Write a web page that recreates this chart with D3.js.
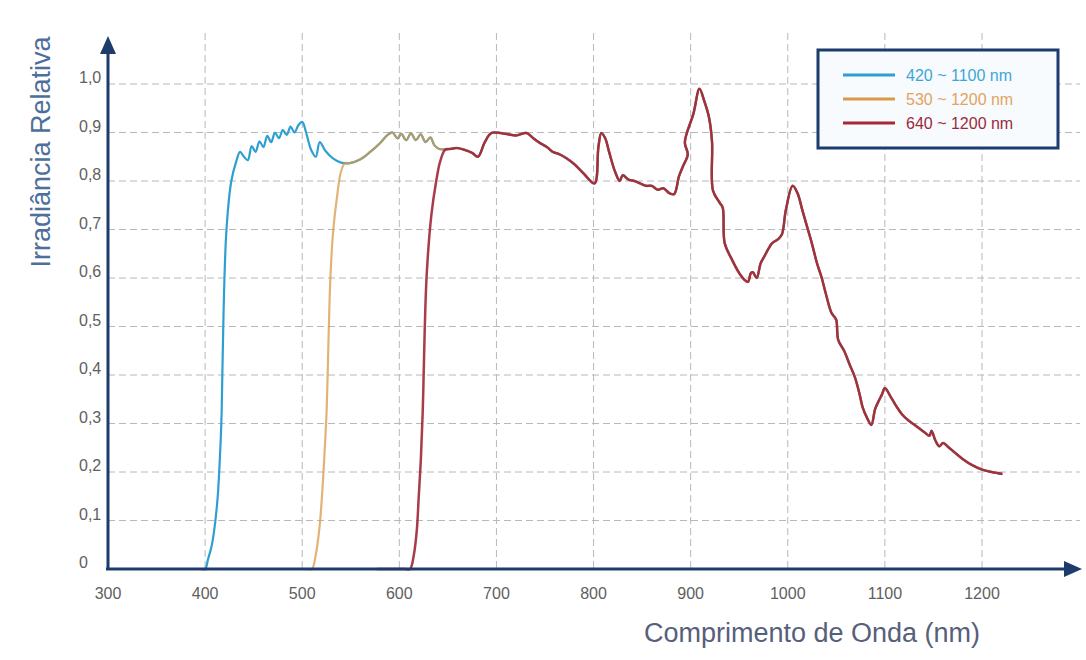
<!DOCTYPE html>
<html>
<head>
<meta charset="utf-8">
<script src="https://cdn.jsdelivr.net/npm/d3@7"></script>
<style>
  body { margin: 0; background: #fff; }
  text { font-family: "Liberation Sans", Arial, sans-serif; }
</style>
</head>
<body>
<svg width="1086" height="660"></svg>
<script>
// tick labels
var xTicks = [300, 400, 500, 600, 700, 800, 900, 1000, 1100, 1200];
var yTicks = [0, 0.1, 0.2, 0.3, 0.4, 0.5, 0.6, 0.7, 0.8, 0.9, 1.0];

// series names
var seriesNames = ["420 ~ 1100 nm", "530 ~ 1200 nm", "640 ~ 1200 nm"];

// blue filter edge and ripple, [nm, value]
var blueRise = [
  [361, 0], [380, 0], [395, 0], [400, 0], [403, 0.02], [407, 0.05], [410, 0.09], [413, 0.15],
  [415, 0.22], [417, 0.32], [419, 0.53], [422, 0.70], [427, 0.80], [432, 0.84], [436, 0.86],
  [440, 0.85], [444, 0.843], [448, 0.872], [452, 0.86], [456, 0.882], [460, 0.87],
  [464, 0.893], [468, 0.88], [472, 0.90], [476, 0.888], [480, 0.905], [484, 0.895],
  [488, 0.912], [492, 0.90], [496, 0.915], [500, 0.922], [504, 0.90], [509, 0.865],
  [514, 0.85], [518, 0.88], [524, 0.862], [532, 0.846], [540, 0.838]
];
// orange filter edge
var orangeRise = [
  [480, 0], [495, 0], [505, 0], [510, 0], [514, 0.03], [518, 0.09], [521, 0.17], [523, 0.24],
  [525, 0.32], [529, 0.60], [532, 0.70], [536, 0.77], [540, 0.82], [544, 0.837]
];
// band shared by blue and orange
var midBand = [
  [549, 0.837], [560, 0.845], [570, 0.86], [580, 0.878], [588, 0.895], [593, 0.90],
  [598, 0.888], [602, 0.897], [607, 0.884], [612, 0.898], [617, 0.884], [622, 0.896],
  [627, 0.88], [632, 0.89], [636, 0.874], [641, 0.866]
];
// red filter edge
var redRise = [
  [577, 0], [595, 0], [606, 0], [611, 0], [615, 0.03], [618, 0.08], [620, 0.15], [622, 0.22],
  [624, 0.32], [628, 0.60], [633, 0.73], [638, 0.80], [642, 0.84], [647, 0.864]
];
// common spectrum, all three filters
var tail = [
  [652, 0.866], [659, 0.868], [666, 0.865], [675, 0.858], [681, 0.85], [688, 0.88],
  [695, 0.899], [710, 0.897], [720, 0.894], [731, 0.899], [738, 0.888], [745, 0.878],
  [752, 0.87], [758, 0.86], [765, 0.855], [772, 0.847], [780, 0.835], [790, 0.815],
  [801, 0.795], [805, 0.87], [808, 0.899], [812, 0.888], [816, 0.86], [822, 0.82],
  [827, 0.80], [830, 0.812], [836, 0.803], [842, 0.80], [848, 0.795], [854, 0.79],
  [860, 0.79], [866, 0.782], [872, 0.785], [878, 0.775], [883, 0.773], [888, 0.81],
  [892, 0.83], [897, 0.855], [894, 0.88], [903, 0.94], [909, 0.99], [914, 0.965],
  [919, 0.93], [922, 0.88], [923, 0.78], [930, 0.755], [933, 0.745], [935, 0.672],
  [942, 0.64], [950, 0.61], [955, 0.597], [959, 0.592], [962, 0.61], [964, 0.612],
  [968, 0.60], [972, 0.63], [976, 0.645], [980, 0.66], [984, 0.672], [990, 0.68],
  [994, 0.69], [998, 0.74], [1005, 0.79], [1010, 0.775], [1015, 0.74], [1020, 0.705],
  [1025, 0.67], [1030, 0.631], [1035, 0.60], [1039, 0.569], [1045, 0.528], [1048, 0.52],
  [1050, 0.513], [1052, 0.472], [1058, 0.45], [1064, 0.42], [1069, 0.396], [1074, 0.36],
  [1077, 0.334], [1082, 0.31], [1086, 0.297], [1090, 0.33], [1094, 0.348], [1097, 0.36],
  [1100, 0.373], [1106, 0.355], [1112, 0.335], [1118, 0.318], [1125, 0.305],
  [1132, 0.295], [1140, 0.283], [1146, 0.275], [1148, 0.285], [1152, 0.265],
  [1156, 0.253], [1160, 0.26], [1165, 0.252], [1172, 0.24], [1180, 0.227],
  [1190, 0.214], [1200, 0.205], [1210, 0.20], [1221, 0.196]
];

var blue = blueRise.concat(midBand, tail),
    orange = orangeRise.concat(midBand, tail),
    red = redRise.concat(tail);

var svg = d3.select("svg");

var x = d3.scaleLinear().domain([300, 1200]).range([108, 982]);
var y = d3.scaleLinear().domain([0, 1]).range([569, 84]);

var navy = "#1d3b6c";

// grid
svg.append("g").selectAll("line")
    .data(xTicks.slice(1))
  .enter().append("line")
    .attr("x1", function(d) { return x(d); })
    .attr("x2", function(d) { return x(d); })
    .attr("y1", 33).attr("y2", 569)
    .attr("stroke", "#b8b8b8")
    .attr("stroke-width", 1)
    .attr("stroke-dasharray", "7,4");

svg.append("g").selectAll("line")
    .data(yTicks.slice(1))
  .enter().append("line")
    .attr("x1", 108).attr("x2", 1080)
    .attr("y1", function(d) { return y(d); })
    .attr("y2", function(d) { return y(d); })
    .attr("stroke", "#b8b8b8")
    .attr("stroke-width", 1)
    .attr("stroke-dasharray", "7,4");

// tick labels
svg.append("g").selectAll("text")
    .data(xTicks)
  .enter().append("text")
    .attr("x", function(d) { return x(d); })
    .attr("y", 599)
    .attr("text-anchor", "middle")
    .attr("font-size", 16)
    .attr("fill", "#606060")
    .text(function(d) { return d; });

svg.append("g").selectAll("text")
    .data(yTicks)
  .enter().append("text")
    .attr("x", 79)
    .attr("y", function(d) { return y(d) - 1; })
    .attr("font-size", 16)
    .attr("fill", "#606060")
    .text(function(d) { return d === 0 ? "0" : d.toFixed(1).replace(".", ","); });

// curves
var line = d3.line()
    .x(function(d) { return x(d[0]); })
    .y(function(d) { return y(d[1]); })
    .curve(d3.curveCatmullRom.alpha(0.5));

svg.append("path").datum(blue)
    .attr("d", line)
    .attr("fill", "none")
    .attr("stroke", "#2e9fd2")
    .attr("stroke-width", 2.2)
    .attr("stroke-linejoin", "round");

svg.append("path").datum(orange)
    .attr("d", line)
    .attr("fill", "none")
    .attr("stroke", "#d99a48")
    .attr("stroke-opacity", 0.75)
    .attr("stroke-width", 2.2)
    .attr("stroke-linejoin", "round");

svg.append("path").datum(red)
    .attr("d", line)
    .attr("fill", "none")
    .attr("stroke", "#a02636")
    .attr("stroke-opacity", 0.9)
    .attr("stroke-width", 2.5)
    .attr("stroke-linejoin", "round");

// axes with arrows
svg.append("line")
    .attr("x1", 106).attr("x2", 1068)
    .attr("y1", 569).attr("y2", 569)
    .attr("stroke", navy).attr("stroke-width", 3);
svg.append("path")
    .attr("d", "M1082,569L1064,561L1064,577Z")
    .attr("fill", navy);

svg.append("line")
    .attr("x1", 108).attr("x2", 108)
    .attr("y1", 570).attr("y2", 50)
    .attr("stroke", navy).attr("stroke-width", 3);
svg.append("path")
    .attr("d", "M108,36L100,54L116,54Z")
    .attr("fill", navy);

// axis titles
svg.append("text")
    .attr("transform", "translate(50,152) rotate(-90)")
    .attr("text-anchor", "middle")
    .attr("font-size", 27)
    .attr("fill", "#4d6f9c")
    .text("Irradiância Relativa");

svg.append("text")
    .attr("x", 812).attr("y", 642)
    .attr("text-anchor", "middle")
    .attr("font-size", 27)
    .attr("fill", "#56607a")
    .text("Comprimento de Onda (nm)");

// legend
var legend = svg.append("g");
legend.append("rect")
    .attr("x", 818).attr("y", 50)
    .attr("width", 240).attr("height", 98)
    .attr("fill", "#f7fbfe")
    .attr("stroke", navy)
    .attr("stroke-width", 3);

var lineColors = ["#2e9fd2", "#d99a48", "#a82838"];
var textColors = ["#3ea6d6", "#e3a35c", "#9c2a3a"];

var item = legend.selectAll(".item")
    .data(seriesNames)
  .enter().append("g")
    .attr("class", "item")
    .attr("transform", function(d, i) { return "translate(0," + (75 + i * 24) + ")"; });

item.append("line")
    .attr("x1", 843).attr("x2", 895)
    .attr("y1", 0).attr("y2", 0)
    .attr("stroke", function(d, i) { return lineColors[i]; })
    .attr("stroke-width", 3);

item.append("text")
    .attr("x", 906).attr("y", 6)
    .attr("font-size", 16)
    .attr("fill", function(d, i) { return textColors[i]; })
    .text(function(d) { return d; });
</script>
</body>
</html>
